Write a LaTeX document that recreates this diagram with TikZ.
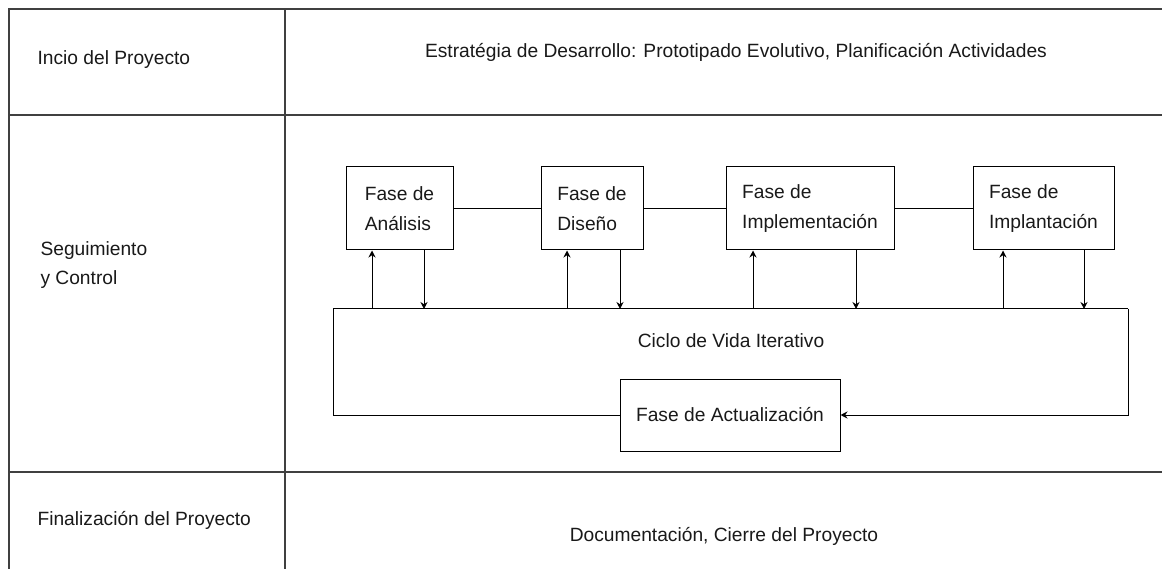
\documentclass[tikz,border=0pt]{standalone}
\usepackage{fontspec}
\setmainfont{Liberation Sans}
\usetikzlibrary{arrows.meta}
\begin{document}
\begin{tikzpicture}[x=1pt,y=-1pt,>={Stealth[length=7pt,width=7pt]},line join=miter,
  font=\fontsize{19.2}{30}\selectfont,text=black!90,
  fase/.style={draw,line width=1pt,minimum height=83pt,align=left,inner sep=0pt},
  regla/.style={line width=1.6pt,black!75}]
\useasboundingbox (0,0) rectangle (1162,569);
% tabla
\draw[regla] (1162,9) -| (9,569) (285,9) -- (285,569) (9,115) -- (1162,115) (9,472) -- (1162,472);
\node[anchor=west] (inicio) at (34,60) {Incio del Proyecto};
\node (estrategia) at (736,52) {Estratégia de Desarrollo: Prototipado Evolutivo, Planificación Actividades};
\node[anchor=west,align=left,font=\fontsize{19.2}{29}\selectfont] (seguim) at (37,265) {Seguimiento\\y Control};
\node[anchor=west] (final) at (34,520) {Finalización del Proyecto};
\node (docu) at (724,536) {Documentación, Cierre del Proyecto};
% fases
\node[fase,minimum width=107pt] (ana) at (399.5,208.5) {Fase de\\Análisis};
\node[fase,minimum width=102pt] (dis) at (592,208.5) {Fase de\\Diseño};
\node[fase,minimum width=168pt] (impl) at (810,208.5) {Fase de\\Implementación};
\node[fase,minimum width=141pt] (impt) at (1043.5,208.5) {Fase de\\Implantación};
\draw[line width=1pt] (ana) -- (dis) (dis) -- (impl) (impl) -- (impt);
% ciclo
\node (ciclo) at (731,341) {Ciclo de Vida Iterativo};
\node[fase,minimum width=220pt,minimum height=72pt] (act) at (730,415) {Fase de Actualización};
\coordinate (lazoA) at (333,309);
\coordinate (lazoB) at (1128,309);
\draw[line width=1pt] (act.west) -| (lazoA) -- (lazoB);
\draw[->,line width=1pt] (lazoB) |- (act.east);
\foreach \n/\s/\b in {ana/372/424,dis/567/620,impl/753/856,impt/1003/1084}{
  \coordinate (s\n) at (\s,309);
  \coordinate (b\n) at (\b,309);
  \draw[->,line width=1pt] (s\n) -- (s\n |- \n.south);
  \draw[->,line width=1pt] (b\n |- \n.south) -- (b\n);
}
\end{tikzpicture}
\end{document}
